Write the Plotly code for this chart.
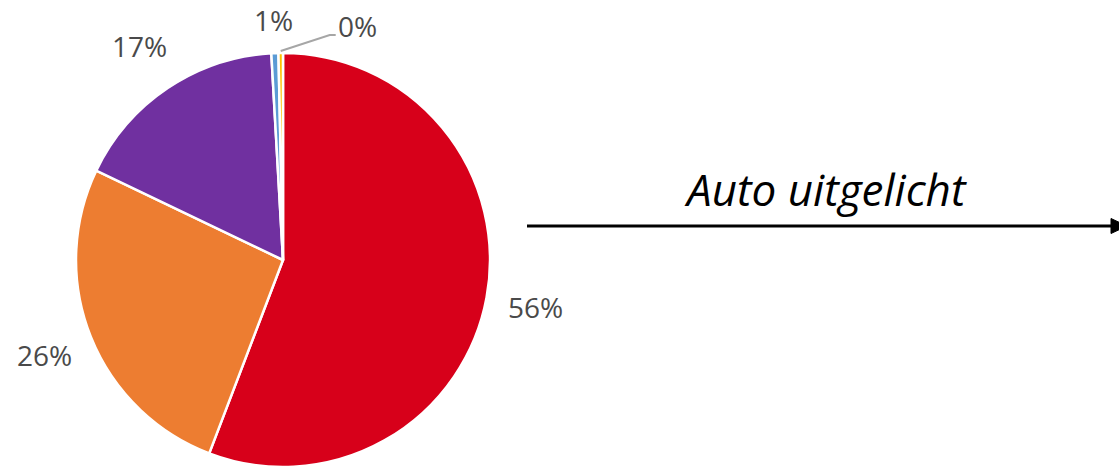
import math
import plotly.graph_objects as go

# ---- data ----
categories = ["A", "B", "C", "D", "E"]
values = [55.8, 26.3, 17.0, 0.55, 0.35]
colors = ["#D7001A", "#ED7D31", "#7030A0", "#5B9BD5", "#FFC000"]
title_text = "Auto uitgelicht"

W, H = 1119, 467
# pie placement (pixels)
CX, CY, R = 283, 260, 207
LABEL_R = [257, 257, 258, 240, None]  # None -> leader line label


def px2paper(x, y):
    return x / W, 1 - y / H


fig = go.Figure()
fig.add_trace(go.Pie(
    labels=categories,
    values=values,
    sort=False,
    direction="clockwise",
    rotation=0,
    textinfo="none",
    hoverinfo="label+percent",
    marker=dict(colors=colors, line=dict(color="white", width=2.5)),
    domain=dict(x=[(CX - R) / W, (CX + R) / W], y=[1 - (CY + R) / H, 1 - (CY - R) / H]),
    showlegend=False,
))

total = sum(values)
annotations = []
shapes = []
cum = 0.0
for i, v in enumerate(values):
    theta = 2 * math.pi * (cum + v / 2) / total
    cum += v
    pct = f"{round(100 * v / total):.0f}%"
    if LABEL_R[i] is not None:
        lx = CX + LABEL_R[i] * math.sin(theta)
        ly = CY - LABEL_R[i] * math.cos(theta)
        x, y = px2paper(lx, ly)
        annotations.append(dict(x=x, y=y, xref="paper", yref="paper", text=pct,
                                showarrow=False, xanchor="center", yanchor="middle",
                                font=dict(family="Open Sans", size=28, color="#4A4A4A")))
    else:
        sx = CX + (R + 2) * math.sin(theta)
        sy = CY - (R + 2) * math.cos(theta)
        ex, ey = sx + 49, sy - 16
        path_pts = [(sx, sy), (ex, ey), (ex + 6, ey)]
        p = " ".join(("M" if k == 0 else "L") + f"{px2paper(a, b)[0]},{px2paper(a, b)[1]}"
                     for k, (a, b) in enumerate(path_pts))
        shapes.append(dict(type="path", path=p, xref="paper", yref="paper",
                           line=dict(color="#A6A6A6", width=2)))
        x, y = px2paper(ex + 6, ey - 9)
        annotations.append(dict(x=x, y=y, xref="paper", yref="paper", text=pct,
                                showarrow=False, xanchor="left", yanchor="middle",
                                font=dict(family="Open Sans", size=28, color="#4A4A4A")))

# arrow
x0, y0 = px2paper(527, 226)
x1, _ = px2paper(1113, 226)
shapes.append(dict(type="line", x0=x0, y0=y0, x1=x1, y1=y0, xref="paper", yref="paper",
                   line=dict(color="black", width=3)))
tri = [(1111, 218.5), (1127, 226), (1111, 233.5)]
p = "M" + " L".join(f"{px2paper(a, b)[0]},{px2paper(a, b)[1]}" for a, b in tri) + " Z"
shapes.append(dict(type="path", path=p, xref="paper", yref="paper",
                   fillcolor="black", line=dict(color="black", width=1)))

tx, ty = px2paper(825, 189)
annotations.append(dict(x=tx, y=ty, xref="paper", yref="paper", text=f"<i>{title_text}</i>",
                        showarrow=False, xanchor="center", yanchor="middle",
                        font=dict(family="Open Sans", size=44, color="black")))

fig.update_layout(
    width=W, height=H,
    margin=dict(l=0, r=0, t=0, b=0),
    paper_bgcolor="white", plot_bgcolor="white",
    annotations=annotations, shapes=shapes,
)
fig.write_html("out.html", config={"displayModeBar": False},
               post_script="document.body.style.margin='0';document.body.style.overflow='hidden';")
